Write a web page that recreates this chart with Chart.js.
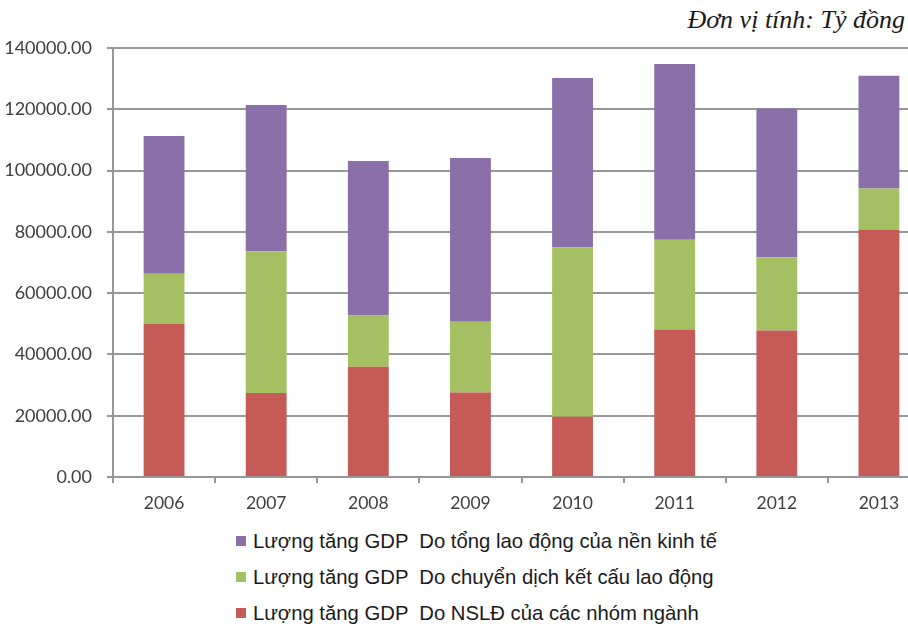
<!DOCTYPE html>
<html>
<head>
<meta charset="utf-8">
<script src="https://cdn.jsdelivr.net/npm/chart.js@4"></script>
<style>
  html, body { margin: 0; padding: 0; background: #fff; }
  body { width: 908px; height: 626px; overflow: hidden; position: relative; }
  #wrap { position: absolute; left: 0; top: 0; width: 931px; height: 526px; }
  #unit {
    position: absolute; right: 3px; top: 5px;
    font-family: "Liberation Serif", serif; font-style: italic; font-size: 26px; color: #1a1a1a;
  }
  #legend { position: absolute; left: 236px; top: 528px; font-family: "Liberation Sans", Arial, sans-serif; font-size: 20.3px; color: #1a1a1a; }
  #legend div { height: 36px; line-height: 26px; white-space: pre; }
  #legend span.box { display: inline-block; width: 10px; height: 10px; margin-right: 7px; vertical-align: 2px; }
</style>
</head>
<body>
<div id="unit">Đơn vị tính: Tỷ đồng</div>
<div id="wrap"><canvas id="chart"></canvas></div>
<div id="legend"></div>
<script>
"use strict";

var years = ["2006", "2007", "2008", "2009", "2010", "2011", "2012", "2013"];
// Do NSLĐ của các nhóm ngành
var nsldValues = [50000, 27400, 36000, 27600, 19700, 48100, 47800, 80750];
// Do chuyển dịch kết cấu lao động
var chuyenDichValues = [16300, 46250, 16700, 23050, 55250, 29350, 23900, 13420];
// Do tổng lao động của nền kinh tế
var tongLaoDongValues = [45000, 47750, 50400, 53450, 55300, 57300, 48550, 36800];

var seriesLabels = [
  "Lượng tăng GDP  Do NSLĐ của các nhóm ngành",
  "Lượng tăng GDP  Do chuyển dịch kết cấu lao động",
  "Lượng tăng GDP  Do tổng lao động của nền kinh tế"
];
var seriesColors = ["#c55a57", "#a5c063", "#8a6fa8"];

var gridColor = "#979797";
var yFont = { family: "Lato", size: 18 };
var xFont = { family: "Lato", size: 17.5 };

var drawChart = function(elementId) {
  var ctx = document.getElementById(elementId);
  var allValues = [nsldValues, chuyenDichValues, tongLaoDongValues];
  var datasets = allValues.map(function(values, i) {
    return {
      label: seriesLabels[i],
      data: values,
      backgroundColor: seriesColors[i],
      borderWidth: 0,
      barPercentage: 0.8,
      categoryPercentage: 0.5
    };
  });

  return new Chart(ctx, {
    type: "bar",
    data: { labels: years, datasets: datasets },
    options: {
      responsive: true,
      maintainAspectRatio: false,
      animation: false,
      layout: { padding: { top: 48, right: 1, bottom: 2, left: 0 } },
      plugins: {
        legend: { display: false },
        tooltip: { enabled: false }
      },
      scales: {
        x: {
          stacked: true,
          grid: { drawOnChartArea: false, offset: true, color: gridColor, lineWidth: 2, tickLength: 6 },
          border: { color: gridColor, width: 2 },
          ticks: { color: "#404040", font: xFont, padding: 10 }
        },
        y: {
          stacked: true,
          min: 0,
          max: 140000,
          afterFit: function(scale) { scale.width = 113; },
          grid: { color: gridColor, lineWidth: 2, tickLength: 6 },
          border: { color: gridColor, width: 2 },
          ticks: {
            stepSize: 20000,
            color: "#404040",
            font: yFont,
            padding: 15,
            callback: function(v) { return Number(v).toFixed(2); }
          }
        }
      }
    }
  });
};

var chart = drawChart("chart");

// legend, top row = top of the stack
var legendEl = document.getElementById("legend");
chart.data.datasets.slice().reverse().forEach(function(ds) {
  var row = document.createElement("div");
  var box = document.createElement("span");
  box.className = "box";
  box.style.background = ds.backgroundColor;
  row.appendChild(box);
  row.appendChild(document.createTextNode(ds.label));
  legendEl.appendChild(row);
});
</script>
</body>
</html>
